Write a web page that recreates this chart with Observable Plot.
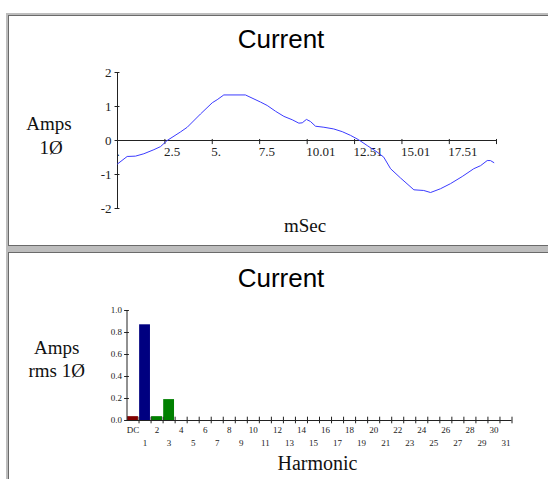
<!DOCTYPE html>
<html>
<head>
<meta charset="utf-8">
<script src="https://cdn.jsdelivr.net/npm/d3@7"></script>
<script src="https://cdn.jsdelivr.net/npm/@observablehq/plot@0.6"></script>
<style>
  html, body { margin: 0; padding: 0; background: #fff; }
  #page { position: relative; width: 548px; height: 479px; overflow: hidden; background: #fff; }
  .frame { position: absolute; left: 6px; top: 13px; width: 600px; height: 520px; background: #bdbdbd; }
  .panel { position: absolute; left: 8px; width: 600px; background: #fff; border-left: 1px solid #6a6a6a; border-top: 1px solid #6a6a6a; }
  #p1 { top: 15px; height: 229px; border-bottom: 1px solid #6a6a6a; }
  #p2 { top: 252px; height: 260px; }
  .chart { position: absolute; left: 0; }
  .lbl { position: absolute; white-space: nowrap; transform: translateX(-50%); line-height: 1; color: #111; }
  .title { font-family: "Liberation Sans", Arial, sans-serif; font-size: 26px; color: #000; }
  .serif { font-family: "Liberation Serif", "Times New Roman", serif; font-size: 19px; }
</style>
</head>
<body>
<div id="page">
  <div class="frame"></div>
  <div class="panel" id="p1"></div>
  <div class="panel" id="p2"></div>
  <div class="chart" id="c1" style="top:0px"></div>
  <div class="chart" id="c2" style="top:253px"></div>

  <div class="lbl title" style="left:281px; top:26.3px">Current</div>
  <div class="lbl serif" style="left:49px; top:114px">Amps</div>
  <div class="lbl serif" style="left:51px; top:137.6px">1Ø</div>
  <div class="lbl serif" style="left:305px; top:215.8px">mSec</div>

  <div class="lbl title" style="left:281px; top:264.7px">Current</div>
  <div class="lbl serif" style="left:56.7px; top:338.1px">Amps</div>
  <div class="lbl serif" style="left:56.7px; top:360.8px">rms 1Ø</div>
  <div class="lbl serif" style="left:317.5px; top:453.3px; font-size:20px">Harmonic</div>
</div>
<script>
// ---- Waveform data (top chart) ----
const timeMs = [0, 0.51, 0.95, 1.39, 1.92, 2.27, 2.62, 3.32, 3.68, 4.38, 5.0, 5.26, 5.61, 6.75, 7.55, 7.9, 8.34, 8.78, 9.22, 9.57, 9.75, 9.97, 10.18, 10.45, 10.89, 11.41, 11.86, 12.3, 12.73, 13.18, 13.7, 14.05, 14.41, 14.93, 15.64, 16.16, 16.52, 17.04, 17.57, 18.19, 18.8, 19.16, 19.51, 19.68, 19.86];
const amps = [-0.69, -0.47, -0.46, -0.39, -0.27, -0.18, 0, 0.25, 0.39, 0.78, 1.11, 1.2, 1.34, 1.34, 1.13, 1.03, 0.86, 0.71, 0.61, 0.51, 0.52, 0.62, 0.56, 0.42, 0.39, 0.34, 0.26, 0.15, 0.02, -0.15, -0.34, -0.49, -0.83, -1.1, -1.45, -1.47, -1.53, -1.42, -1.27, -1.06, -0.83, -0.74, -0.59, -0.59, -0.65];
const waveYTicks = [-2, -1, 0, 1, 2];
const waveXTickValues = [0, 2.5, 5, 7.5, 10.01, 12.51, 15.01, 17.51, 20];
const waveXTickLabels = [".", "2.5", "5.", "7.5", "10.01", "12.51", "15.01", "17.51", ""];

// ---- Harmonic data (bottom chart) ----
const harmonicLabels = ["DC","1","2","3","4","5","6","7","8","9","10","11","12","13","14","15","16","17","18","19","20","21","22","23","24","25","26","27","28","29","30","31"];
const harmonicRms = [0.035, 0.87, 0.035, 0.19, 0, 0, 0, 0, 0, 0, 0, 0, 0, 0, 0, 0, 0, 0, 0, 0, 0, 0, 0, 0, 0, 0, 0, 0, 0, 0, 0, 0];
const harmYTicks = [0, 0.2, 0.4, 0.6, 0.8, 1.0];

const SERIF = "Liberation Serif, Times New Roman, serif";
const INK = "#222";

const wave = timeMs.map((t, i) => ({t, a: amps[i]}));
const xTicks = waveXTickValues.map((v, i) => ({v, label: waveXTickLabels[i]}));

const waveChart = Plot.plot({
  width: 548, height: 245,
  marginLeft: 117, marginRight: 52, marginTop: 72, marginBottom: 37,
  x: {domain: [0, 20], axis: null},
  y: {domain: [-2, 2], axis: null},
  style: {background: "transparent", overflow: "visible"},
  marks: [
    Plot.ruleX([0], {y1: -2, y2: 2, stroke: INK}),
    Plot.ruleY([0], {x1: 0, x2: 20, stroke: INK}),
    Plot.ruleY(waveYTicks, {y: d => d, x1: -0.13, x2: 0.13, stroke: INK}),
    Plot.text(waveYTicks, {x: 0, y: d => d, text: d => String(d), dx: -6, textAnchor: "end", fontFamily: SERIF, fontSize: 13, fill: INK}),
    Plot.ruleX(xTicks, {x: "v", y1: 0.03, y2: -0.12, stroke: INK}),
    Plot.text(xTicks, {x: "v", y: 0, text: "label", dy: 11.5, dx: -1, textAnchor: "start", fontFamily: SERIF, fontSize: 13, fill: INK}),
    Plot.line(wave, {x: "t", y: "a", stroke: "#3b3bff", strokeWidth: 1})
  ]
});
document.getElementById("c1").append(waveChart);

const harm = harmonicLabels.map((label, i) => ({i, label, v: harmonicRms[i]}));
const barColor = i => i === 0 ? "#800000" : i === 1 ? "#000080" : "#008000";

const harmChart = Plot.plot({
  width: 548, height: 226,
  marginLeft: 126.5, marginRight: 36.5, marginTop: 57, marginBottom: 59,
  x: {domain: [-0.5, 31.5], axis: null},
  y: {domain: [0, 1], axis: null},
  style: {background: "transparent", overflow: "visible"},
  marks: [
    Plot.rectY(harm, {x1: d => d.i - 0.45, x2: d => d.i + 0.45, y: "v", fill: d => barColor(d.i)}),
    Plot.ruleX([-0.5], {y1: 0, y2: 1, stroke: INK}),
    Plot.ruleY([0], {x1: -0.5, x2: 31.5, stroke: INK}),
    Plot.ruleY(harmYTicks, {y: d => d, x1: -0.7, x2: -0.3, stroke: INK}),
    Plot.text(harmYTicks, {x: -0.5, y: d => d, text: d => d.toFixed(1), dx: -5, textAnchor: "end", fontFamily: SERIF, fontSize: 9, fill: INK}),
    Plot.ruleX(harm, {x: d => d.i + 0.5, y1: -0.03, y2: 0.03, stroke: INK}),
    Plot.text(harm.filter(d => d.i % 2 === 0), {x: "i", y: 0, text: "label", dy: 10, fontFamily: SERIF, fontSize: 9, fill: INK}),
    Plot.text(harm.filter(d => d.i % 2 === 1), {x: "i", y: 0, text: "label", dy: 23, fontFamily: SERIF, fontSize: 9, fill: INK})
  ]
});
document.getElementById("c2").append(harmChart);
</script>
</body>
</html>
